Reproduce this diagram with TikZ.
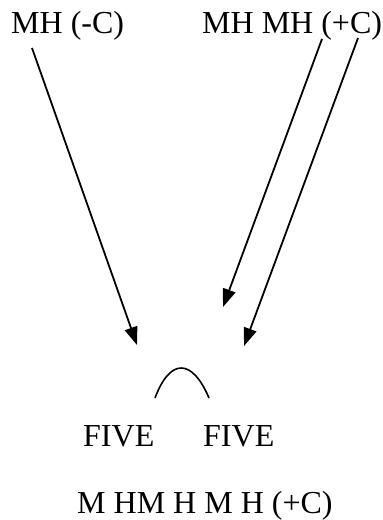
\documentclass[tikz,border=0pt]{standalone}
\usepackage{fontspec}
\setmainfont{Liberation Serif}
\usetikzlibrary{arrows.meta}

\begin{document}
\begin{tikzpicture}[
    x=1pt, y=-1pt,
    lbl/.style={anchor=base west, inner sep=0pt, font=\fontsize{32}{38}\selectfont},
    arrow/.style={-{Triangle[length=18pt, width=13pt]}, line width=1.8pt}
]
\useasboundingbox (0,0) rectangle (383,520);

% Nodes
\node[lbl] (mhneg) at (11,33) {MH (-C)};
\node[lbl] (mhpos) at (202,33) {MH MH (+C)};
\node[lbl] (fiveleft) at (83,446) {FIVE};
\node[lbl] (fiveright) at (203,446) {FIVE};
\node[lbl] (melody) at (77,513) {M HM H M H (+C)};

% Arrow ends
\coordinate (a1s) at (32,48);
\coordinate (a1e) at (137,345);
\coordinate (a2s) at (322,39);
\coordinate (a2e) at (223,307);
\coordinate (a3s) at (358,38);
\coordinate (a3e) at (244,346);

% Arrows
\draw[arrow] (a1s) -- (a1e);
\draw[arrow] (a2s) -- (a2e);
\draw[arrow] (a3s) -- (a3e);

% Caret
\draw[line width=1.6pt] (155,398) .. controls (170,358) and (192,358) .. (209,398);

\end{tikzpicture}
\end{document}
